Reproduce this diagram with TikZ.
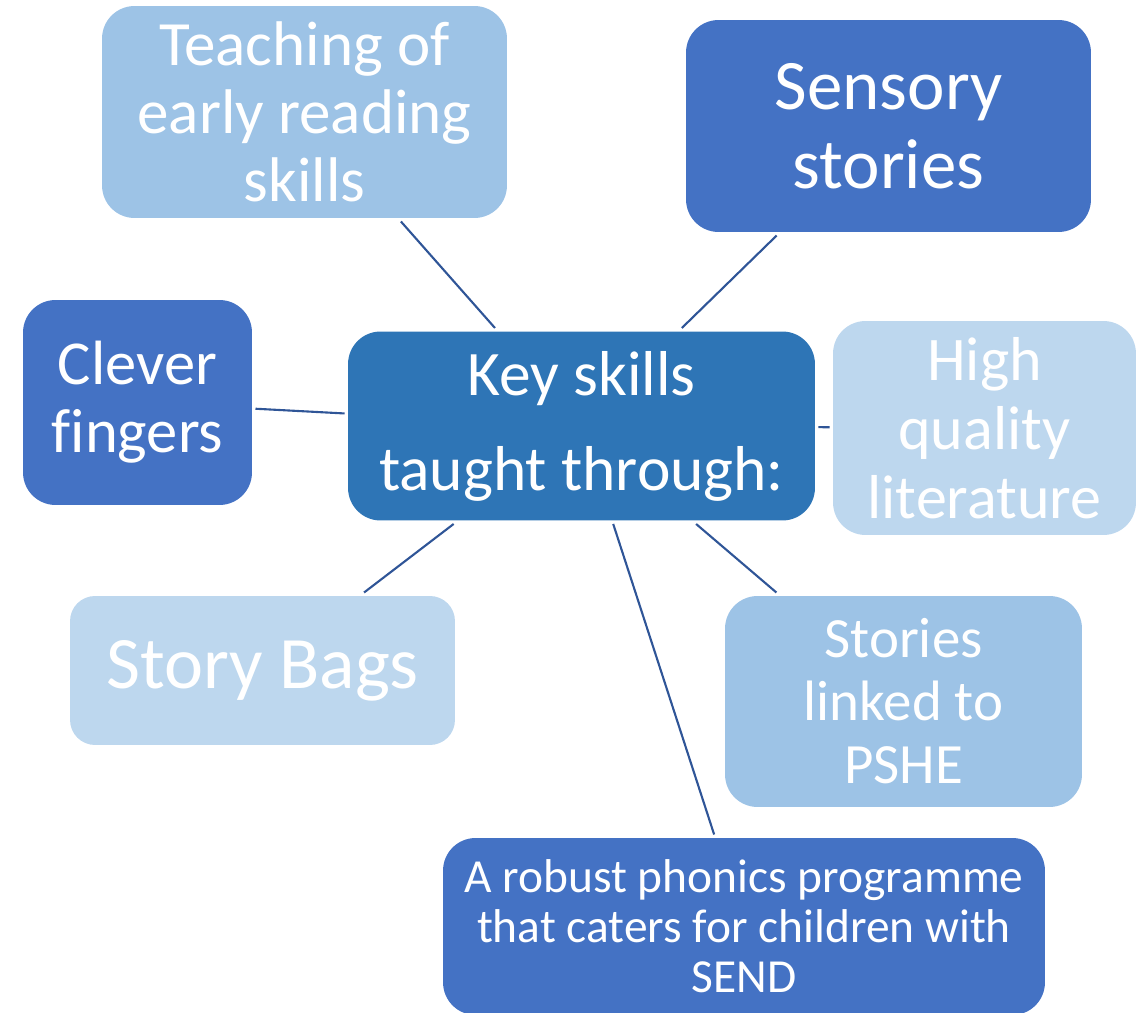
\documentclass[tikz,border=0pt]{standalone}
\usepackage{fontspec}
\setmainfont{Carlito}[Ligatures=CommonOff]

\definecolor{keyblue}{HTML}{2E75B6}
\definecolor{midblue}{HTML}{4472C4}
\definecolor{lightblue}{HTML}{9DC3E6}
\definecolor{paleblue}{HTML}{BDD7EE}
\definecolor{linkblue}{HTML}{2F5597}

\begin{document}
\begin{tikzpicture}[x=0.02cm, y=-0.02cm,
        box/.style={rectangle, rounded corners=0.65cm, draw=none, text=white,
            align=center, inner sep=0pt, outer sep=2pt},
        link/.style={draw=linkblue, line width=1.2pt}]

        \useasboundingbox (0,0) rectangle (1147,1013);

        % the centre box
        \node[box, fill=keyblue, minimum width=9.34cm, minimum height=3.78cm,
            font=\fontsize{36.1}{54}\selectfont] (key) at (581.5,426)
            {Key skills\\taught through:};

        % boxes round it
        \node[box, fill=lightblue, minimum width=8.1cm, minimum height=4.24cm,
            font=\fontsize{35.9}{38.7}\selectfont] (teach) at (304.5,112)
            {Teaching of\\early reading\\skills};
        \node[box, fill=midblue, minimum width=8.1cm, minimum height=4.24cm,
            font=\fontsize{40.4}{45}\selectfont] (sensory) at (888.5,126)
            {Sensory\\stories};
        \node[box, fill=midblue, minimum width=4.58cm, minimum height=4.1cm,
            font=\fontsize{35.6}{38.7}\selectfont] (clever) at (137.5,402.5)
            {Clever\\fingers};
        \node[box, fill=paleblue, minimum width=6.06cm, minimum height=4.28cm,
            font=\fontsize{35.3}{39.3}\selectfont] (quality) at (984.5,428)
            {High\\quality\\literature};
        \node[box, fill=paleblue, rounded corners=0.5cm, minimum width=7.7cm,
            minimum height=2.98cm, font=\fontsize{42.1}{46}\selectfont] (bags) at (262.5,670.5)
            {Story Bags};
        \node[box, fill=lightblue, minimum width=7.14cm, minimum height=4.22cm,
            font=\fontsize{32.4}{35.9}\selectfont] (pshe) at (903.5,701.5)
            {Stories\\linked to\\PSHE};
        \node[box, fill=midblue, minimum width=12.04cm, minimum height=3.54cm,
            font=\fontsize{27}{28.5}\selectfont] (phonics) at (744,926.5)
            {A robust phonics programme\\that caters for children with\\SEND};

        % spokes
        \foreach \n in {teach, sensory, clever, quality, bags, pshe, phonics}
            \draw[link] (key) -- (\n);
\end{tikzpicture}
\end{document}
